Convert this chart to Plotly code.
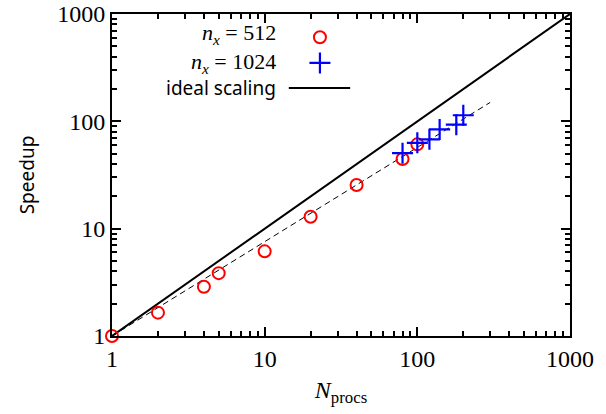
import plotly.graph_objects as go

# Data
nprocs_512 = [1, 2, 4, 5, 10, 20, 40, 80, 100]
speedup_512 = [1.0, 1.65, 2.88, 3.85, 6.15, 12.9, 25.5, 44.6, 61.0]

nprocs_1024 = [80, 100, 120, 140, 180, 200]
speedup_1024 = [50.5, 63.0, 68.0, 84.0, 93.0, 114.0]

fit_x = [1, 300]
fit_y = [1, 150]

ideal_x = [1, 1000]
ideal_y = [1, 1000]

tick_vals = [1, 10, 100, 1000]
tick_text = ["1", "10", "100", "1000"]

SERIF = "Liberation Serif"
SANS = "Noto Sans"

fig = go.Figure()

fig.add_trace(go.Scatter(x=ideal_x, y=ideal_y, mode="lines",
                         line=dict(color="black", width=2), showlegend=False))
fig.add_trace(go.Scatter(x=fit_x, y=fit_y, mode="lines",
                         line=dict(color="black", width=1, dash="6px,4px"), showlegend=False))
fig.add_trace(go.Scatter(x=nprocs_512, y=speedup_512, mode="markers",
                         marker=dict(symbol="circle-open", size=12, color="red",
                                     line=dict(width=2, color="red")),
                         showlegend=False, cliponaxis=False))
fig.add_trace(go.Scatter(x=nprocs_1024, y=speedup_1024, mode="markers",
                         marker=dict(symbol="cross-thin-open", size=15, color="blue",
                                     line=dict(width=2.2, color="blue")),
                         showlegend=False, cliponaxis=False))

# legend keys drawn on an overlay axis in plot-fraction units
fig.add_trace(go.Scatter(x=[0.454], y=[0.928], xaxis="x2", yaxis="y2", mode="markers",
                         marker=dict(symbol="circle-open", size=12, color="red",
                                     line=dict(width=2, color="red")), showlegend=False))
fig.add_trace(go.Scatter(x=[0.454], y=[0.848], xaxis="x2", yaxis="y2", mode="markers",
                         marker=dict(symbol="cross-thin-open", size=15, color="blue",
                                     line=dict(width=2.2, color="blue")), showlegend=False))
fig.add_trace(go.Scatter(x=[0.386, 0.520], y=[0.770, 0.770], xaxis="x2", yaxis="y2", mode="lines",
                         line=dict(color="black", width=2), showlegend=False))

legend_text = [
    ("<i>n</i><sub><i>x</i></sub> = 512", 0.937, SERIF, 22),
    ("<i>n</i><sub><i>x</i></sub> = 1024", 0.848, SERIF, 22),
    ("ideal scaling", 0.770, SANS, 19),
]
for txt, yy, fam, sz in legend_text:
    fig.add_annotation(x=0.362, y=yy, xref="paper", yref="paper", text=txt,
                       showarrow=False, xanchor="right", yanchor="middle",
                       font=dict(family=fam, size=sz, color="black"))

axis_common = dict(
    type="log",
    tickvals=tick_vals, ticktext=tick_text,
    ticks="inside", ticklen=9, tickwidth=1.5, tickcolor="black",
    showline=True, linecolor="black", linewidth=2, mirror="allticks",
    showgrid=False, zeroline=False, automargin=False,
    ticklabeloverflow="allow",
    tickfont=dict(family=SERIF, size=24, color="black"),
    minor=dict(ticks="inside", ticklen=5, tickwidth=1.5, tickcolor="black",
               dtick="D1", showgrid=False),
)

fig.update_layout(
    width=606, height=414,
    margin=dict(l=112, r=36, t=14, b=78),
    paper_bgcolor="white", plot_bgcolor="white",
    xaxis=dict(axis_common, range=[0, 3],
               title=dict(text="<i>N</i><sub>procs</sub>",
                          font=dict(family=SERIF, size=24, color="black"), standoff=10)),
    yaxis=dict(axis_common, range=[0, 3],
               title=dict(text="Speedup", font=dict(family=SANS, size=19, color="black"),
                          standoff=18)),
    xaxis2=dict(overlaying="x", range=[0, 1], visible=False, fixedrange=True),
    yaxis2=dict(overlaying="y", range=[0, 1], visible=False, fixedrange=True),
)

fig.write_html("out.html", config={"displayModeBar": False},
               post_script="document.body.style.margin='0';document.body.style.overflow='hidden';")
